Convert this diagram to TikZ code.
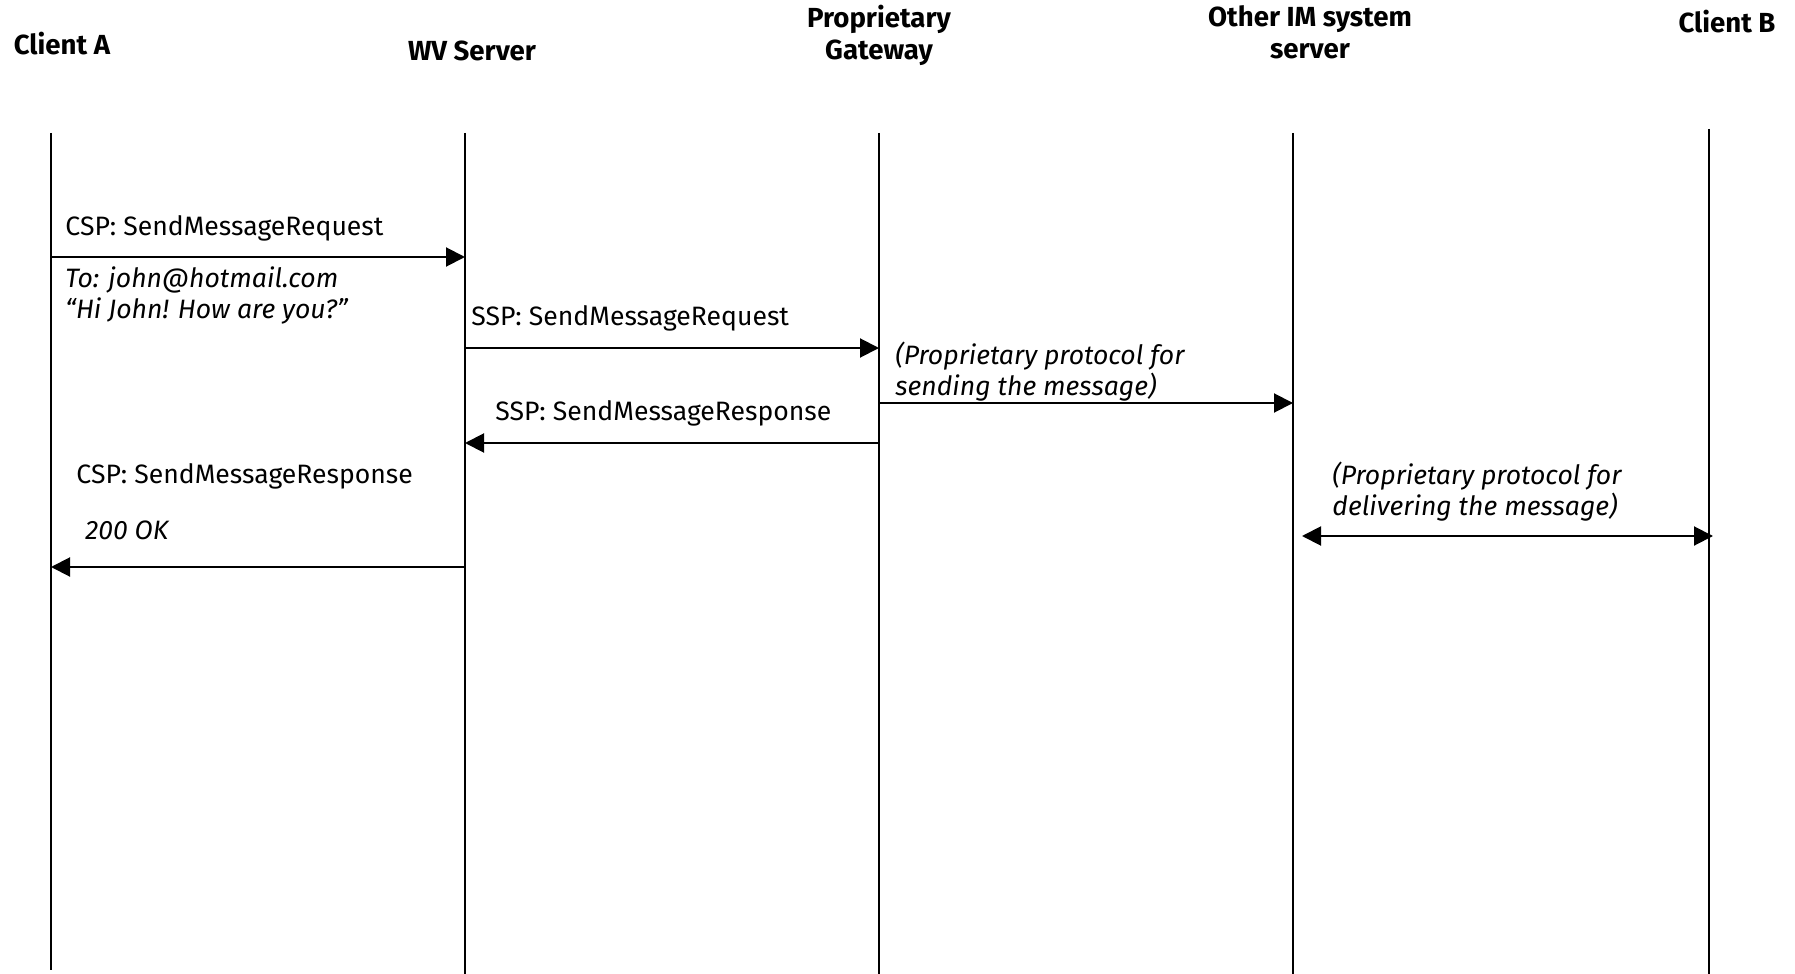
\documentclass[tikz,border=0pt]{standalone}
\usepackage{fontspec}
\setmainfont{Fira Sans}
\usetikzlibrary{arrows.meta}
\begin{document}
\begin{tikzpicture}[x=0.5pt,y=-0.5pt,
  lifeline/.style={line width=1pt},
  tip/.tip={Triangle[length=9.5pt,width=9.5pt]},
  msg/.style={line width=1pt,-tip},
  twoway/.style={line width=1pt,tip-tip},
  head/.style={font=\fontsize{13.8}{16}\selectfont\bfseries, inner sep=0pt, anchor=base, align=center},
  lbl/.style={font=\fontsize{13.3}{15.5}\selectfont, inner sep=0pt, anchor=base west, align=left},
  note/.style={lbl, font=\fontsize{13.3}{15.5}\selectfont\itshape}]
\useasboundingbox (0,0) rectangle (1795,974);

% participants (base anchor sits on the last line)
\node[head] (hA) at (62,55) {Client A};
\node[head] (hW) at (472,61) {WV Server};
\node[head] (hG) at (879,60) {Proprietary\\Gateway};
\node[head] (hO) at (1310,59) {Other IM system\\server};
\node[head] (hB) at (1727,33) {Client B};

% lifelines
\coordinate (tA) at (51,133);   \coordinate (bA) at (51,970);
\coordinate (tW) at (465,133);  \coordinate (bW) at (465,974);
\coordinate (tG) at (879,133);  \coordinate (bG) at (879,974);
\coordinate (tO) at (1293,133); \coordinate (bO) at (1293,974);
\coordinate (tB) at (1709,129); \coordinate (bB) at (1709,974);
\foreach \p in {A,W,G,O,B} \draw[lifeline] (t\p) -- (b\p);

% CSP request
\node[lbl] (m1) at (65,235) {CSP: SendMessageRequest};
\draw[msg] (tA |- 0,257) -- (tW |- 0,257);
\node[note] (m1n) at (65,318) {To: john@hotmail.com\\“Hi John! How are you?”};

% SSP request
\node[lbl] (m2) at (471,325) {SSP: SendMessageRequest};
\draw[msg] (tW |- 0,348) -- (tG |- 0,348);

% proprietary sending
\node[note] (m3) at (895,395) {(Proprietary protocol for\\sending the message)};
\draw[msg] (tG |- 0,403) -- (tO |- 0,403);

% SSP response
\node[lbl] (m4) at (495,420) {SSP: SendMessageResponse};
\draw[msg] (tG |- 0,443) -- (tW |- 0,443);

% CSP response
\node[lbl] (m5) at (76,483) {CSP: SendMessageResponse};
\node[note] (m5n) at (85,539) {200 OK};
\draw[msg] (tW |- 0,567) -- (tA |- 0,567);

% proprietary delivery
\node[note] (m6) at (1332,515) {(Proprietary protocol for\\delivering the message)};
\coordinate (d1) at (1302,536);
\coordinate (d2) at (1713,536);
\draw[twoway] (d1) -- (d2);
\end{tikzpicture}
\end{document}
